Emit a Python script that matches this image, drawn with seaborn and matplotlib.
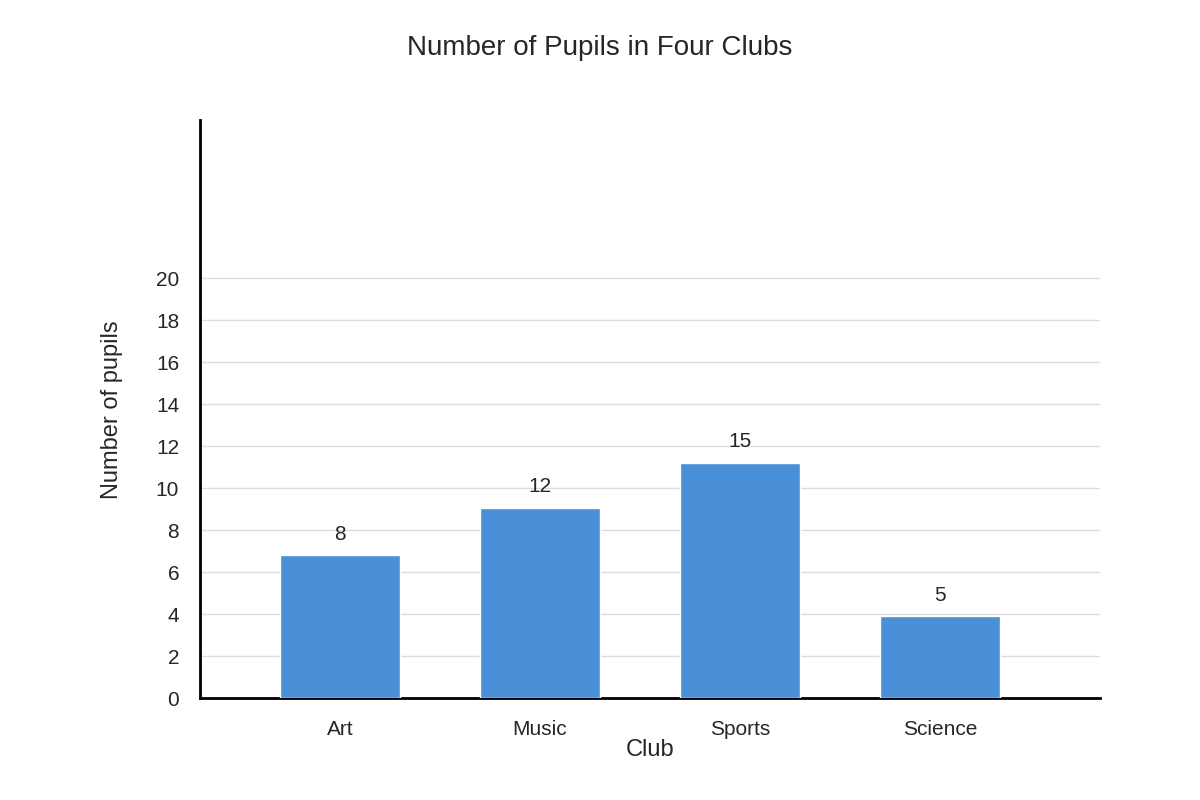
import matplotlib
matplotlib.use('Agg')
import matplotlib.pyplot as plt
import seaborn as sns
import pandas as pd

clubs = ['Art', 'Music', 'Sports', 'Science']
pupils = [8, 12, 15, 5]                       # value labels shown above bars
bar_heights = [6.8, 9.05, 11.2, 3.9]          # drawn bar heights
yticks = list(range(0, 21, 2))

df = pd.DataFrame({'club': clubs, 'height': bar_heights})

sns.set_theme(style='white')
plt.rcParams['font.family'] = ['Liberation Sans', 'DejaVu Sans']

fig = plt.figure(figsize=(12, 8), dpi=100)
ax = fig.add_axes([200/1200, 1-698/800, 900/1200, 578/800])

sns.barplot(data=df, x='club', y='height', color='#4a90d9', width=0.6,
            saturation=1, ax=ax, zorder=3)

for i, v in enumerate(pupils):
    ax.text(i, bar_heights[i] + 0.55, str(v), ha='center', va='bottom', fontsize=15)

ax.set_xlim(-0.7, 3.8)
ax.set_ylim(0, 578/21)
ax.set_yticks(yticks)
for t in yticks[1:]:
    ax.axhline(t, color='#dddddd', lw=1, zorder=1)
ax.tick_params(axis='both', length=0, labelsize=15)
ax.tick_params(axis='x', pad=16)
ax.tick_params(axis='y', pad=15)

for s in ['top', 'right']:
    ax.spines[s].set_visible(False)
ax.spines['left'].set_color('black')
ax.spines['left'].set_linewidth(2)
ax.spines['bottom'].set_color('black')
ax.spines['bottom'].set_linewidth(2)

ax.set_xlabel('')
ax.set_ylabel('')
fig.text(650/1200, 1-750/800, 'Club', ha='center', va='center', fontsize=17)
fig.text(112/1200, 1-410/800, 'Number of pupils', ha='center', va='center',
         rotation=90, fontsize=17)
fig.text(0.5, 1-48/800, 'Number of Pupils in Four Clubs', ha='center', va='center',
         fontsize=20)

fig.savefig('out.png', dpi=100)
